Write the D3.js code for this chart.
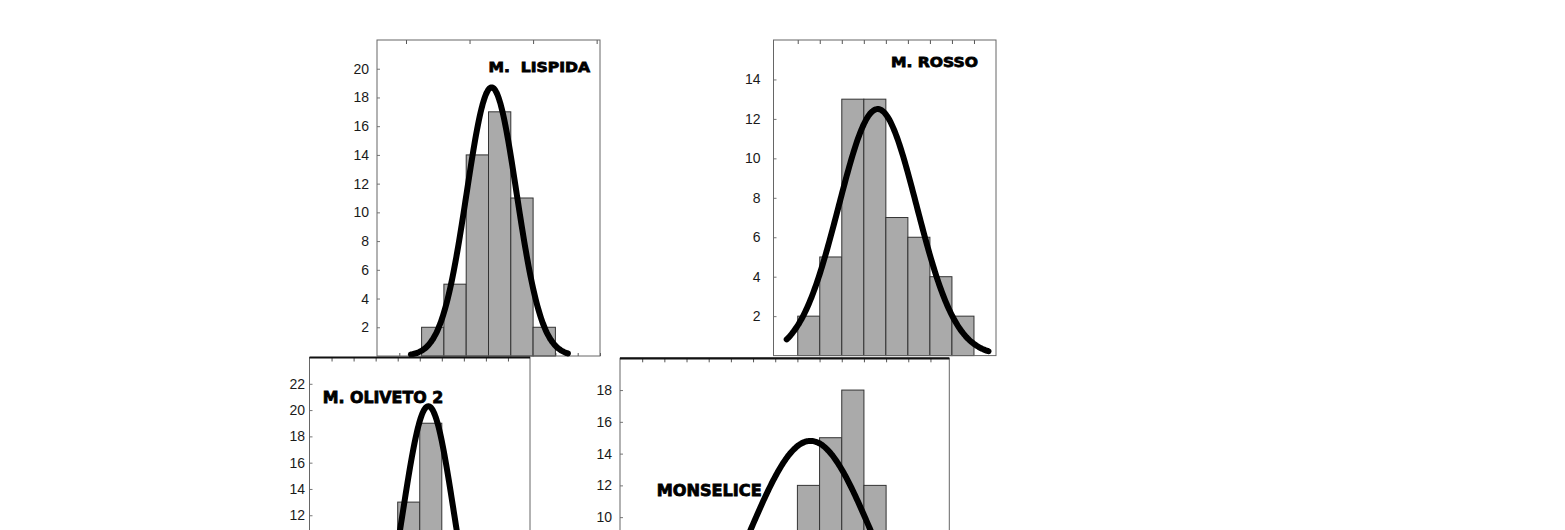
<!DOCTYPE html>
<html>
<head>
<meta charset="utf-8">
<script src="https://cdn.jsdelivr.net/npm/d3@7"></script>
<style>
  body { margin: 0; background: #fff; }
  svg { display: block; }
</style>
</head>
<body>
<svg width="1565" height="530"></svg>
<script>
// histogram classes are numbered 0,1,2... along each panel's x axis
var panelNames = ["M.  LISPIDA", "M. ROSSO", "M. OLIVETO 2", "MONSELICE"];
var lispidaCounts = [2, 5, 14, 17, 11, 2];
var rossoCounts = [2, 5, 13, 13, 7, 6, 4, 2];
var olivetoCounts = [1, 7, 13, 19, 10, 4, 1];
var monseliceCounts = [1, 2, 4, 8, 12, 15, 18, 12, 6, 2];
var counts = [lispidaCounts, rossoCounts, olivetoCounts, monseliceCounts];
var firstClass = [0, 0, 1, 3];

// fitted normal curves
var fitMean = [3.14, 3.63, 4.39, 7.59];
var fitSd = [1.12, 1.77, 1.15, 2.77];
var fitPeak = [18.7, 12.5, 20.3, 14.8];
var fitFrom = [-0.48, -0.5, 1.0, -1];
var fitTo = [6.57, 8.66, 7.8, 13.85];

// axes (only the tick labels that fall inside the picture)
var xDomains = [[-2, 8], [-1.1, 9], [-1, 9], [-1, 13.85]];
var yMax = [22, 16, 24, 20];
var yTicks = [d3.range(2, 21, 2), d3.range(2, 15, 2), d3.range(12, 23, 2), d3.range(10, 19, 2)];
var topTicks = [[-0.7, 2.15, 5, 7.85], d3.range(0, 9), d3.range(0, 9), d3.range(0, 14)];

// layout (pixels)
var frames = [
  {x0: 377, x1: 600, y0: 40, y1: 356, gap: 8, lx: 488.5, ly: 71.7, lw: 101.5, fs: 14},
  {x0: 773.5, x1: 996, y0: 40, y1: 355.6, gap: 13, lx: 891, ly: 66.7, lw: 87, fs: 14},
  {x0: 309.5, x1: 530, y0: 357.5, y1: 673, gap: 4.5, lx: 322.7, ly: 403.3, lw: 120.5, fs: 16},
  {x0: 620, x1: 949.3, y0: 358.3, y1: 676, gap: 8, lx: 656.7, ly: 496, lw: 105, fs: 16}
];

var svg = d3.select("svg");

frames.forEach(function(f, p) {
  var x = d3.scaleLinear().domain(xDomains[p]).range([f.x0, f.x1]);
  var y = d3.scaleLinear().domain([0, yMax[p]]).range([f.y1, f.y0]);
  var g = svg.append("g");

  g.append("rect")
    .attr("x", f.x0).attr("y", f.y0)
    .attr("width", f.x1 - f.x0).attr("height", f.y1 - f.y0)
    .attr("fill", "#fff");

  // top ticks
  var top = g.append("g")
    .attr("transform", "translate(0," + f.y0 + ")")
    .call(d3.axisTop(x).tickValues(topTicks[p]).tickSizeInner(-4).tickSizeOuter(0).tickFormat(""));
  top.select(".domain").remove();
  top.selectAll("line").attr("stroke", "#555");

  if (p == 0) {
    var bot = g.append("g")
      .attr("transform", "translate(0," + f.y1 + ")")
      .call(d3.axisBottom(x).tickValues(d3.range(-1, 9)).tickSizeInner(-3).tickSizeOuter(0).tickFormat(""));
    bot.select(".domain").remove();
    bot.selectAll("line").attr("stroke", "#555");
  }

  // y axis
  var left = g.append("g")
    .attr("transform", "translate(" + f.x0 + ",0)")
    .call(d3.axisLeft(y).tickValues(yTicks[p]).tickSizeInner(-3).tickSizeOuter(0).tickPadding(f.gap));
  left.select(".domain").remove();
  left.selectAll("line").attr("stroke", "#777");
  left.selectAll("text")
    .attr("font-family", "'Liberation Sans', Arial, sans-serif")
    .attr("font-size", 14)
    .attr("fill", "#1a1a1a");

  // bars
  g.selectAll("rect.bar")
    .data(counts[p])
    .enter()
    .append("rect")
    .attr("class", "bar")
    .attr("x", function(d, i) { return x(firstClass[p] + i); })
    .attr("width", function(d, i) { return x(firstClass[p] + i + 1) - x(firstClass[p] + i); })
    .attr("y", function(d) { return y(d); })
    .attr("height", function(d) { return y(0) - y(d); })
    .attr("fill", "#aaaaaa")
    .attr("stroke", "#333")
    .attr("stroke-width", 1);

  // frame
  g.append("rect")
    .attr("x", f.x0).attr("y", f.y0)
    .attr("width", f.x1 - f.x0).attr("height", f.y1 - f.y0)
    .attr("fill", "none")
    .attr("stroke", "#666")
    .attr("stroke-width", 1);
  if (p >= 2) {
    g.append("line")
      .attr("x1", f.x0).attr("x2", f.x1)
      .attr("y1", f.y0).attr("y2", f.y0)
      .attr("stroke", "#111").attr("stroke-width", 2.2);
  }

  // label
  g.append("text")
    .attr("x", f.lx).attr("y", f.ly)
    .attr("font-family", "'DejaVu Sans', sans-serif")
    .attr("font-weight", "bold")
    .attr("font-size", f.fs)
    .attr("textLength", f.lw)
    .attr("lengthAdjust", "spacingAndGlyphs")
    .attr("fill", "#000")
    .attr("stroke", "#000")
    .attr("stroke-width", 0.8)
    .style("white-space", "pre")
    .text(panelNames[p]);

  // normal fit
  var pts = d3.range(fitFrom[p], fitTo[p] + 0.001, 0.04).map(function(v) {
    var z = (v - fitMean[p]) / fitSd[p];
    return [v, fitPeak[p] * Math.exp(-z * z / 2)];
  });
  var line = d3.line()
    .x(function(d) { return x(d[0]); })
    .y(function(d) { return y(d[1]); })
    .curve(d3.curveBasis);
  g.append("path")
    .attr("d", line(pts))
    .attr("fill", "none")
    .attr("stroke", "#000")
    .attr("stroke-width", 6)
    .attr("stroke-linecap", "round");
});
</script>
</body>
</html>
